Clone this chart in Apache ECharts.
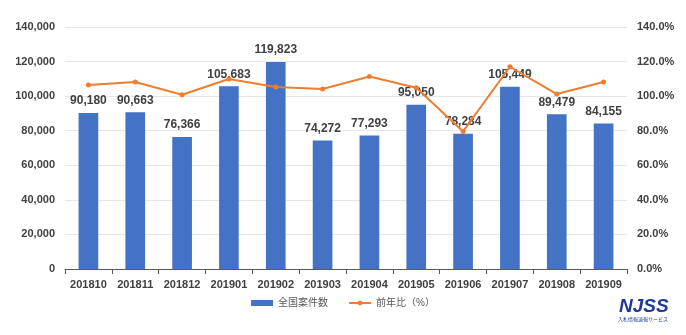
<!DOCTYPE html>
<html><head><meta charset="utf-8">
<script src="https://cdn.jsdelivr.net/npm/echarts@6/dist/echarts.min.js"></script>
<style>html,body{margin:0;padding:0;background:#fff}#c{width:686px;height:335px}</style>
</head><body><div id="c"></div>
<script>
const categories = ['201810','201811','201812','201901','201902','201903','201904','201905','201906','201907','201908','201909'];
const caseCounts = [90180,90663,76366,105683,119823,74272,77293,95050,78284,105449,89479,84155];
const yoyRatio = [106.4,108.2,100.8,109.9,105.3,104.1,111.4,104.9,79.6,117.0,101.2,108.2];
const leftTicks = [0,20000,40000,60000,80000,100000,120000,140000];
const rightTicks = [0,20,40,60,80,100,120,140];
const seriesNames = ['全国案件数','前年比（%）'];

const font = '"Liberation Sans", "Noto Sans CJK JP", sans-serif';
const chart = echarts.init(document.getElementById('c'));
chart.setOption({
  animation:false,
  textStyle:{fontFamily:font},
  grid:{left:65,right:59,top:27,bottom:66},
  legend:{bottom:22,left:'center',itemWidth:22,itemHeight:6,itemGap:20,
    textStyle:{color:'#595959',fontSize:10,fontFamily:font},
    data:[{name:seriesNames[0],icon:'rect'},{name:seriesNames[1]}]},
  xAxis:{type:'category',data:categories,
    axisLine:{lineStyle:{color:'#595959'}},
    axisTick:{show:true,alignWithLabel:false,length:5,lineStyle:{color:'#595959'}},
    axisLabel:{interval:0,color:'#404040',fontSize:11,fontWeight:'bold',margin:10}},
  yAxis:[
    {type:'value',min:leftTicks[0],max:leftTicks[leftTicks.length-1],interval:20000,
     axisLine:{show:false},axisTick:{show:false},
     splitLine:{lineStyle:{color:'#e6e6e6'}},
     axisLabel:{color:'#404040',fontSize:11,fontWeight:'bold',margin:10,
       formatter:v=>v.toLocaleString('en-US')}},
    {type:'value',min:rightTicks[0],max:rightTicks[rightTicks.length-1],interval:20,
     axisLine:{show:false},axisTick:{show:false},splitLine:{show:false},
     axisLabel:{color:'#404040',fontSize:11,fontWeight:'bold',margin:10,
       formatter:v=>v.toFixed(1)+'%'}}
  ],
  series:[
    {name:seriesNames[0],type:'bar',data:caseCounts,barWidth:'42%',
     itemStyle:{color:'#4472C4'},
     label:{show:true,position:'top',distance:6,color:'#404040',fontSize:12,fontWeight:'bold',
       formatter:p=>p.value.toLocaleString('en-US')}},
    {name:seriesNames[1],type:'line',yAxisIndex:1,data:yoyRatio,
     symbol:'circle',symbolSize:5,
     itemStyle:{color:'#ED7D31'},lineStyle:{color:'#ED7D31',width:2}}
  ],
  graphic:[
    {type:'text',left:619,top:297,style:{text:'NJSS',fill:'#1f3a93',font:'italic bold 19px "Liberation Sans", sans-serif'}},
    {type:'text',left:618,top:317,style:{text:'入札情報速報サービス',fill:'#1f3a93',font:'5px "Noto Sans CJK JP", sans-serif'}}
  ]
});
</script></body></html>
